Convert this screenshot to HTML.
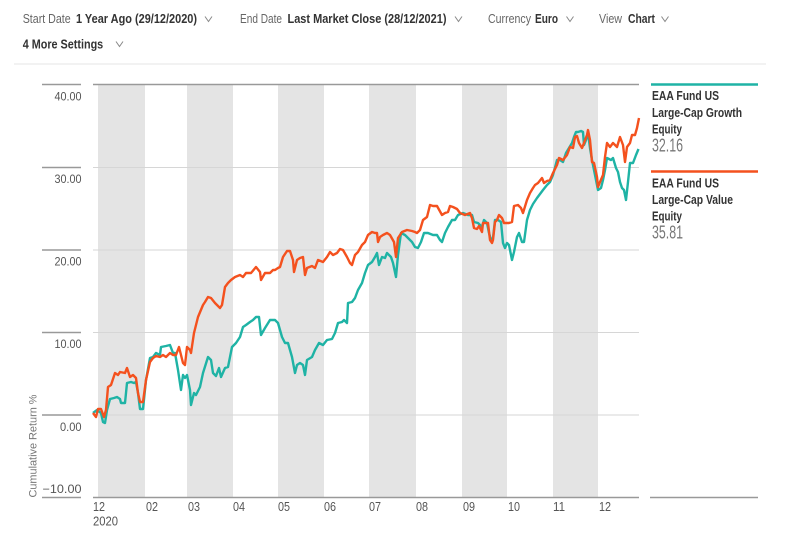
<!DOCTYPE html>
<html><head><meta charset="utf-8"><style>
html,body{margin:0;padding:0;background:#fff;}
svg{display:block;}
text{font-family:"Liberation Sans",sans-serif;}
</style></head><body>
<svg width="793" height="542" viewBox="0 0 793 542" xmlns="http://www.w3.org/2000/svg">
<rect width="793" height="542" fill="#fff"/>
<!-- header -->
<g font-size="12.5">
<text x="22.7" y="23" fill="#666" textLength="48" lengthAdjust="spacingAndGlyphs">Start Date</text>
<text x="76" y="23" fill="#333" font-weight="bold" textLength="121" lengthAdjust="spacingAndGlyphs">1 Year Ago (29/12/2020)</text>
<text x="240" y="23" fill="#666" textLength="42" lengthAdjust="spacingAndGlyphs">End Date</text>
<text x="287.5" y="23" fill="#333" font-weight="bold" textLength="159" lengthAdjust="spacingAndGlyphs">Last Market Close (28/12/2021)</text>
<text x="488" y="23" fill="#666" textLength="43" lengthAdjust="spacingAndGlyphs">Currency</text>
<text x="535" y="23" fill="#333" font-weight="bold" textLength="23" lengthAdjust="spacingAndGlyphs">Euro</text>
<text x="599" y="23" fill="#666" textLength="23" lengthAdjust="spacingAndGlyphs">View</text>
<text x="628" y="23" fill="#333" font-weight="bold" textLength="27" lengthAdjust="spacingAndGlyphs">Chart</text>
<text x="22.7" y="48.5" fill="#333" font-weight="bold" textLength="80.5" lengthAdjust="spacingAndGlyphs">4 More Settings</text>
</g>
<g fill="none" stroke="#888" stroke-width="1">
<polyline points="205,16.5 208.5,21.5 212,16.5"/>
<polyline points="455,16.5 458.5,21.5 462,16.5"/>
<polyline points="566.5,16.5 570,21.5 573.5,16.5"/>
<polyline points="661.5,16.5 665,21.5 668.5,16.5"/>
<polyline points="116,41.5 119.5,46.5 123,41.5"/>
</g>
<line x1="14" y1="64" x2="766" y2="64" stroke="#e6e6e6" stroke-width="1"/>

<!-- bands -->
<g fill="#e4e4e4">
<rect x="98" y="85" width="47" height="412"/>
<rect x="187" y="85" width="46" height="412"/>
<rect x="278" y="85" width="46" height="412"/>
<rect x="369" y="85" width="47" height="412"/>
<rect x="462" y="85" width="45" height="412"/>
<rect x="553" y="85" width="45" height="412"/>
</g>
<!-- gridlines -->
<g stroke="#d6d6d6" stroke-width="1">
<line x1="93" y1="167.5" x2="639" y2="167.5"/>
<line x1="93" y1="250" x2="639" y2="250"/>
<line x1="93" y1="332.5" x2="639" y2="332.5"/>
<line x1="93" y1="415" x2="639" y2="415"/>
</g>
<g stroke="#999" stroke-width="1.5">
<line x1="93" y1="84.5" x2="639" y2="84.5"/>
<line x1="93" y1="497.5" x2="639" y2="497.5"/>
<line x1="42" y1="84.5" x2="81" y2="84.5"/>
<line x1="42" y1="167.5" x2="81" y2="167.5"/>
<line x1="42" y1="250" x2="81" y2="250"/>
<line x1="42" y1="332.5" x2="81" y2="332.5"/>
<line x1="42" y1="415" x2="81" y2="415"/>
<line x1="42" y1="497.5" x2="81" y2="497.5"/>
<line x1="650" y1="497.5" x2="758" y2="497.5"/>
</g>
<!-- y labels -->
<g font-size="11.5" fill="#555" text-anchor="end">
<text x="81.5" y="100.5" textLength="27" lengthAdjust="spacingAndGlyphs">40.00</text>
<text x="81.5" y="183" textLength="27" lengthAdjust="spacingAndGlyphs">30.00</text>
<text x="81.5" y="265.5" textLength="27" lengthAdjust="spacingAndGlyphs">20.00</text>
<text x="81.5" y="348" textLength="27" lengthAdjust="spacingAndGlyphs">10.00</text>
<text x="81.5" y="431" textLength="21.5" lengthAdjust="spacingAndGlyphs">0.00</text>
<text x="81.5" y="493" textLength="39" lengthAdjust="spacingAndGlyphs">−10.00</text>
</g>
<text transform="translate(36.5,446) rotate(-90)" text-anchor="middle" font-size="11" fill="#777" textLength="103" lengthAdjust="spacingAndGlyphs">Cumulative Return %</text>
<!-- x labels -->
<g font-size="12.5" fill="#555">
<text x="93" y="511" textLength="12" lengthAdjust="spacingAndGlyphs">12</text>
<text x="93" y="525.5" textLength="25" lengthAdjust="spacingAndGlyphs">2020</text>
<text x="146" y="511" textLength="12" lengthAdjust="spacingAndGlyphs">02</text>
<text x="188" y="511" textLength="12" lengthAdjust="spacingAndGlyphs">03</text>
<text x="233" y="511" textLength="12" lengthAdjust="spacingAndGlyphs">04</text>
<text x="278" y="511" textLength="12" lengthAdjust="spacingAndGlyphs">05</text>
<text x="324" y="511" textLength="12" lengthAdjust="spacingAndGlyphs">06</text>
<text x="369" y="511" textLength="12" lengthAdjust="spacingAndGlyphs">07</text>
<text x="416" y="511" textLength="12" lengthAdjust="spacingAndGlyphs">08</text>
<text x="463" y="511" textLength="12" lengthAdjust="spacingAndGlyphs">09</text>
<text x="508" y="511" textLength="12" lengthAdjust="spacingAndGlyphs">10</text>
<text x="553" y="511" textLength="12" lengthAdjust="spacingAndGlyphs">11</text>
<text x="599" y="511" textLength="12" lengthAdjust="spacingAndGlyphs">12</text>
</g>
<!-- series -->
<polyline fill="none" stroke="#1fb3a5" stroke-width="2.4" stroke-linejoin="round" points="93,413 97,410 101,413 103,422 105,423 107,410 110,399 114,398 117,397 120,399 121,403 125,403 127,383 131,382 134,383 136,382 138,393 140,409 143,409 146,380 150,358 153,357 156,353 160,355 161,347 166,346 170,345 173,353 175,353 178,370 181,390 183,375 185,378 187,375 190,390 191,405 194,393 196,395 200,387 203,373 208,357 211,360 213,373 216,376 219,368 221,377 225,368 228,367 232,347 236,343 240,337 243,327 246,325 250,322 253,320 256,317 259,317 261,335 265,328 270,320 275,320 278,323 282,337 285,343 288,343 292,357 295,373 297,365 300,363 303,365 305,375 307,360 312,357 315,350 319,343 323,345 327,340 332,339 335,333 338,323 342,322 344,320 347,323 348,303 352,302 355,298 358,290 362,283 365,273 368,265 372,262 375,257 377,253 379,265 382,257 385,258 387,253 391,257 393,263 396,277 398,255 401,233 405,235 408,238 412,242 415,247 418,248 421,242 424,233 428,233 433,235 437,235 440,240 442,242 445,233 448,227 452,220 455,220 458,215 463,213 468,215 472,215 474,222 478,223 482,227 484,220 487,223 489,233 491,240 493,238 495,220 498,220 501,222 503,243 505,248 507,243 509,245 512,260 514,252 517,237 519,233 522,242 524,242 527,220 530,210 533,204 537,198 540,194 543,190 547,185 550,182 553,175 557,160 560,160 563,162 566,153 569,148 572,143 574,137 576,132 578,132 581,131 583,132 584,145 586,140 588,133 590,148 592,160 593,165 596,180 598,190 601,188 603,180 605,170 607,158 611,160 613,158 616,168 618,172 620,182 622,188 624,190 626,200 628,182 630,163 633,163 636,155 638.5,149"/>
<polyline fill="none" stroke="#f4511e" stroke-width="2.4" stroke-linejoin="round" points="93,413 96,417 98,409 101,409 104,417 106,410 108,387 111,385 115,373 118,375 120,372 125,373 127,368 130,377 133,375 136,378 138,393 140,402 143,402 146,380 150,362 153,358 156,356 160,357 163,355 166,357 170,353 173,355 176,355 179,347 181,355 183,363 185,365 187,347 190,350 191,353 194,333 198,317 203,305 205,302 208,297 211,298 215,303 220,308 222,305 225,287 228,283 231,280 235,277 240,275 243,277 246,273 251,273 256,267 260,272 261,280 265,273 270,273 273,270 275,270 278,268 280,267 283,257 287,251 290,251 293,260 294,272 297,260 300,258 303,257 305,275 307,268 312,266 315,268 318,260 323,262 327,257 330,252 333,255 337,253 340,249 343,250 347,257 350,263 352,265 355,255 358,252 362,245 365,242 368,235 372,232 375,233 377,233 378,242 380,237 383,235 387,233 390,235 394,242 396,257 398,238 402,232 407,230 412,231 415,232 417,233 420,230 423,220 427,217 430,205 433,206 437,206 442,215 445,213 448,212 450,206 453,207 457,209 460,213 465,215 470,213 472,218 474,228 477,229 479,226 482,232 483,223 486,223 488,223 490,240 492,243 493,240 495,222 497,220 499,215 502,218 504,223 507,223 509,223 512,222 514,206 518,205 521,208 523,213 527,200 530,193 533,188 535,185 538,183 542,178 544,183 547,181 550,180 553,173 557,165 559,158 563,160 567,155 570,147 573,148 575,137 577,136 579,143 582,148 584,143 587,135 588,130 590,140 592,162 594,163 597,177 598,187 600,182 603,175 605,157 607,143 610,147 613,143 617,147 620,137 623,145 625,162 627,147 630,143 632,135 635,135 637,128 639,118"/>

<!-- legend -->
<line x1="651" y1="84.5" x2="758" y2="84.5" stroke="#1fb3a5" stroke-width="2.4"/>
<g font-size="13" font-weight="bold" fill="#333">
<text x="652" y="100" textLength="67" lengthAdjust="spacingAndGlyphs">EAA Fund US</text>
<text x="652" y="117" textLength="90" lengthAdjust="spacingAndGlyphs">Large-Cap Growth</text>
<text x="652" y="133.5" textLength="30" lengthAdjust="spacingAndGlyphs">Equity</text>
</g>
<text x="652" y="151.5" font-size="18" fill="#777" textLength="31" lengthAdjust="spacingAndGlyphs">32.16</text>
<line x1="651" y1="171.5" x2="758" y2="171.5" stroke="#f4511e" stroke-width="2.4"/>
<g font-size="13" font-weight="bold" fill="#333">
<text x="652" y="187.5" textLength="67" lengthAdjust="spacingAndGlyphs">EAA Fund US</text>
<text x="652" y="204" textLength="81" lengthAdjust="spacingAndGlyphs">Large-Cap Value</text>
<text x="652" y="220.5" textLength="30" lengthAdjust="spacingAndGlyphs">Equity</text>
</g>
<text x="652" y="238.5" font-size="18" fill="#777" textLength="31" lengthAdjust="spacingAndGlyphs">35.81</text>
</svg>
</body></html>
